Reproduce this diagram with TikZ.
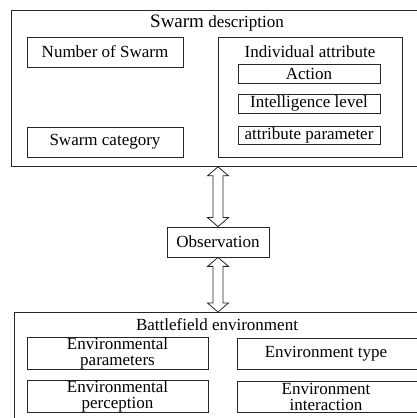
\documentclass[tikz,border=0pt]{standalone}
\usepackage{fontspec}
\setmainfont{Liberation Serif}
\usetikzlibrary{calc}
\tikzset{
  box/.style={draw=black!85, line width=0.8pt, rectangle, inner sep=0pt, align=center,
              font=\fontsize{17}{16}\selectfont},
  txt/.style={inner sep=0pt, align=center, font=\fontsize{17}{16}\selectfont},
  blockarrow/.style={draw=black!85, line width=0.8pt, fill=white, line join=miter}
}
\newcommand{\blockdbl}[2]{%
  \draw[blockarrow] let \p1=(#1), \p2=(#2) in
   (\x1,\y1) -- (\x1+10.5pt,\y1-9pt) -- (\x1+5pt,\y1-9pt) -- (\x1+5pt,\y2+9pt)
   -- (\x1+10.5pt,\y2+9pt) -- (\x1,\y2) -- (\x1-10.5pt,\y2+9pt) -- (\x1-5pt,\y2+9pt)
   -- (\x1-5pt,\y1-9pt) -- (\x1-10.5pt,\y1-9pt) -- cycle;}
\begin{document}
\begin{tikzpicture}[x=1pt,y=1pt]
\useasboundingbox (0,0) rectangle (417,418);
\clip (0,0) rectangle (417,418);
\fill[white] (0,0) rectangle (417,418);
% top group
\node[box, anchor=north west, minimum width=414, minimum height=156] (swarm) at (11,408) {};
\node[txt] (swarmt) at (217,395) {{\fontsize{19}{19}\selectfont Swarm} description};
\node[box, minimum width=156, minimum height=30] (num) at (105,366) {Number of Swarm};
\node[box, minimum width=156, minimum height=30] (cat) at (105,276) {Swarm category};
\node[box, minimum width=184, minimum height=120] (ind) at (310,321) {};
\node[txt] (indt) at (310,366) {Individual attribute};
\node[box, minimum width=142, minimum height=19] (act) at (309,344.5) {Action};
\node[box, minimum width=142, minimum height=19] (intel) at (309,314.5) {Intelligence level};
\node[box, minimum width=142, minimum height=18] (apar) at (309,283) {attribute parameter};
% observation
\node[box, minimum width=102, minimum height=30] (obs) at (218,176) {Observation};
% bottom group
\node[box, anchor=north west, minimum width=411, minimum height=113] (battle) at (14,106) {};
\node[txt] (battlet) at (217,93) {Battlefield environment};
\node[box, minimum width=181, minimum height=31] (epar) at (117.5,64.5) {Environmental\\parameters};
\node[box, anchor=west, minimum width=188, minimum height=31] (etype) at (237,64.5) {};
\node[txt] (etypet) at (326,64.5) {Environment type};
\node[box, minimum width=181, minimum height=31] (eper) at (117.5,21.5) {Environmental\\perception};
\node[box, anchor=west, minimum width=188, minimum height=31] (eint) at (237,21.5) {};
\node[txt] (eintt) at (326,21.5) {Environment\\interaction};
% arrows
\coordinate (a1) at (obs.north |- swarm.south);
\coordinate (a2) at (obs.south |- battle.north);
\blockdbl{a1}{obs.north}
\blockdbl{obs.south}{a2}
\end{tikzpicture}
\end{document}
